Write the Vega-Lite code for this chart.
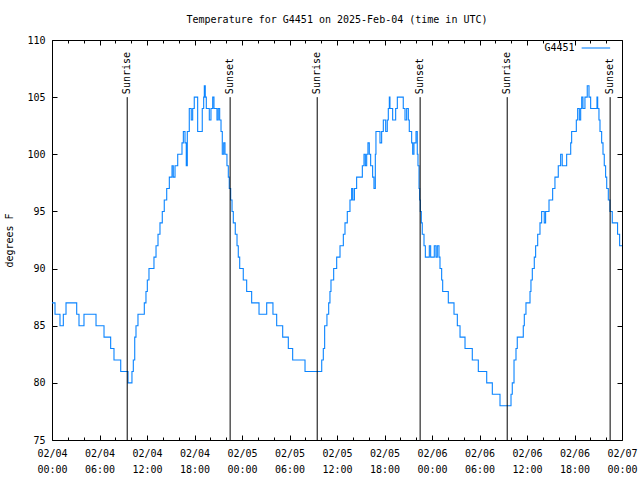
{
  "$schema": "https://vega.github.io/schema/vega-lite/v6.json",
  "width": 570,
  "height": 400,
  "autosize": {"type": "none"},
  "padding": {"left": 52, "top": 40, "right": 18, "bottom": 40},
  "background": "white",
  "config": {
    "view": {"stroke": "#000000", "strokeWidth": 1},
    "font": "DejaVu Sans Mono",
    "axis": {"labelFont": "DejaVu Sans Mono", "labelFontSize": 10, "labelColor": "#000000", "tickColor": "#000000", "titleFont": "DejaVu Sans Mono", "titleFontSize": 10, "titleFontWeight": "normal", "titleColor": "#000000", "domain": false, "grid": false}
  },
  "title": {"text": "Temperature for G4451 on 2025-Feb-04 (time in UTC)", "font": "DejaVu Sans Mono", "fontSize": 10, "fontWeight": "normal", "color": "#000000", "offset": 10, "anchor": "middle"},
  "datasets": {
    "temps": [
      {"t": 0, "temp": 87}, {"t": 0.38, "temp": 86}, {"t": 1.01, "temp": 85}, {"t": 1.43, "temp": 86}, {"t": 1.77, "temp": 87},
      {"t": 3.12, "temp": 86}, {"t": 3.41, "temp": 85}, {"t": 4.04, "temp": 86}, {"t": 5.56, "temp": 85}, {"t": 6.57, "temp": 84},
      {"t": 7.41, "temp": 83}, {"t": 7.83, "temp": 82}, {"t": 8.68, "temp": 81}, {"t": 9.6, "temp": 80}, {"t": 10.1, "temp": 81},
      {"t": 10.27, "temp": 82}, {"t": 10.45, "temp": 84}, {"t": 10.61, "temp": 85}, {"t": 10.86, "temp": 86}, {"t": 11.66, "temp": 87},
      {"t": 11.87, "temp": 88}, {"t": 12.04, "temp": 89}, {"t": 12.25, "temp": 90}, {"t": 12.88, "temp": 91}, {"t": 13.14, "temp": 92},
      {"t": 13.39, "temp": 93}, {"t": 13.64, "temp": 94}, {"t": 13.93, "temp": 95}, {"t": 14.18, "temp": 96}, {"t": 14.49, "temp": 97},
      {"t": 14.82, "temp": 98}, {"t": 15.16, "temp": 99}, {"t": 15.32, "temp": 98}, {"t": 15.54, "temp": 99}, {"t": 15.88, "temp": 100},
      {"t": 16.42, "temp": 101}, {"t": 16.59, "temp": 102}, {"t": 16.8, "temp": 101}, {"t": 16.96, "temp": 99}, {"t": 17.09, "temp": 102},
      {"t": 17.34, "temp": 104}, {"t": 17.59, "temp": 103}, {"t": 17.77, "temp": 104}, {"t": 17.97, "temp": 105}, {"t": 18.4, "temp": 102},
      {"t": 18.98, "temp": 104}, {"t": 19.16, "temp": 105}, {"t": 19.24, "temp": 106}, {"t": 19.36, "temp": 105}, {"t": 19.49, "temp": 104},
      {"t": 19.87, "temp": 103}, {"t": 20.08, "temp": 104}, {"t": 20.3, "temp": 105}, {"t": 20.46, "temp": 104}, {"t": 20.84, "temp": 103},
      {"t": 21.0, "temp": 104}, {"t": 21.18, "temp": 103}, {"t": 21.35, "temp": 102}, {"t": 21.51, "temp": 100}, {"t": 21.69, "temp": 101},
      {"t": 21.85, "temp": 100}, {"t": 22.1, "temp": 99}, {"t": 22.27, "temp": 98}, {"t": 22.39, "temp": 97}, {"t": 22.57, "temp": 96},
      {"t": 22.74, "temp": 95}, {"t": 22.9, "temp": 94}, {"t": 23.15, "temp": 93}, {"t": 23.37, "temp": 92}, {"t": 23.53, "temp": 91},
      {"t": 23.71, "temp": 90}, {"t": 24.16, "temp": 89}, {"t": 24.59, "temp": 88}, {"t": 25.22, "temp": 87}, {"t": 26.15, "temp": 86},
      {"t": 27.12, "temp": 87}, {"t": 27.91, "temp": 86}, {"t": 28.38, "temp": 85}, {"t": 29.14, "temp": 84}, {"t": 29.85, "temp": 83},
      {"t": 30.4, "temp": 82}, {"t": 31.96, "temp": 81}, {"t": 34.07, "temp": 82}, {"t": 34.27, "temp": 83}, {"t": 34.44, "temp": 85},
      {"t": 34.73, "temp": 86}, {"t": 34.95, "temp": 87}, {"t": 35.11, "temp": 88}, {"t": 35.24, "temp": 89}, {"t": 35.58, "temp": 90},
      {"t": 35.96, "temp": 91}, {"t": 36.38, "temp": 92}, {"t": 36.8, "temp": 93}, {"t": 37.01, "temp": 94}, {"t": 37.3, "temp": 95},
      {"t": 37.64, "temp": 96}, {"t": 37.85, "temp": 97}, {"t": 38.0, "temp": 96}, {"t": 38.2, "temp": 97}, {"t": 38.48, "temp": 98},
      {"t": 39.2, "temp": 99}, {"t": 39.41, "temp": 100}, {"t": 39.58, "temp": 99}, {"t": 39.75, "temp": 100}, {"t": 39.91, "temp": 101},
      {"t": 40.08, "temp": 100}, {"t": 40.25, "temp": 99}, {"t": 40.5, "temp": 98}, {"t": 40.67, "temp": 97}, {"t": 40.84, "temp": 100},
      {"t": 40.92, "temp": 102}, {"t": 41.43, "temp": 101}, {"t": 41.64, "temp": 102}, {"t": 41.85, "temp": 103}, {"t": 42.15, "temp": 102},
      {"t": 42.35, "temp": 103}, {"t": 42.48, "temp": 104}, {"t": 42.61, "temp": 105}, {"t": 42.69, "temp": 104}, {"t": 43.03, "temp": 103},
      {"t": 43.41, "temp": 104}, {"t": 43.62, "temp": 105}, {"t": 44.37, "temp": 104}, {"t": 44.59, "temp": 103}, {"t": 44.8, "temp": 104},
      {"t": 45.01, "temp": 103}, {"t": 45.13, "temp": 102}, {"t": 45.43, "temp": 101}, {"t": 45.56, "temp": 100}, {"t": 45.72, "temp": 101},
      {"t": 45.98, "temp": 102}, {"t": 46.14, "temp": 100}, {"t": 46.23, "temp": 99}, {"t": 46.36, "temp": 97}, {"t": 46.44, "temp": 96},
      {"t": 46.52, "temp": 95}, {"t": 46.65, "temp": 94}, {"t": 46.77, "temp": 93}, {"t": 46.99, "temp": 92}, {"t": 47.16, "temp": 91},
      {"t": 47.66, "temp": 92}, {"t": 47.83, "temp": 91}, {"t": 48.29, "temp": 92}, {"t": 48.5, "temp": 91}, {"t": 48.67, "temp": 92},
      {"t": 48.88, "temp": 91}, {"t": 49.01, "temp": 90}, {"t": 49.22, "temp": 89}, {"t": 49.35, "temp": 88}, {"t": 50.06, "temp": 87},
      {"t": 50.78, "temp": 86}, {"t": 51.2, "temp": 85}, {"t": 51.54, "temp": 84}, {"t": 52.17, "temp": 83}, {"t": 53.09, "temp": 82},
      {"t": 53.85, "temp": 81}, {"t": 54.91, "temp": 80}, {"t": 55.62, "temp": 79}, {"t": 56.59, "temp": 78}, {"t": 57.98, "temp": 79},
      {"t": 58.14, "temp": 80}, {"t": 58.36, "temp": 82}, {"t": 58.61, "temp": 83}, {"t": 58.77, "temp": 84}, {"t": 59.53, "temp": 85},
      {"t": 59.66, "temp": 86}, {"t": 59.87, "temp": 87}, {"t": 60.38, "temp": 88}, {"t": 60.5, "temp": 89}, {"t": 60.67, "temp": 90},
      {"t": 60.92, "temp": 91}, {"t": 61.09, "temp": 92}, {"t": 61.35, "temp": 93}, {"t": 61.64, "temp": 94}, {"t": 61.85, "temp": 95},
      {"t": 62.18, "temp": 94}, {"t": 62.35, "temp": 95}, {"t": 62.78, "temp": 96}, {"t": 63.24, "temp": 97}, {"t": 63.53, "temp": 98},
      {"t": 63.95, "temp": 99}, {"t": 64.25, "temp": 100}, {"t": 64.45, "temp": 99}, {"t": 65.01, "temp": 100}, {"t": 65.52, "temp": 101},
      {"t": 65.64, "temp": 102}, {"t": 66.23, "temp": 103}, {"t": 66.4, "temp": 104}, {"t": 66.61, "temp": 103}, {"t": 66.78, "temp": 104},
      {"t": 66.91, "temp": 105}, {"t": 67.07, "temp": 104}, {"t": 67.32, "temp": 105}, {"t": 67.61, "temp": 106}, {"t": 67.83, "temp": 105},
      {"t": 68.04, "temp": 104}, {"t": 68.84, "temp": 105}, {"t": 68.93, "temp": 104}, {"t": 69.09, "temp": 103}, {"t": 69.22, "temp": 102},
      {"t": 69.43, "temp": 101}, {"t": 69.6, "temp": 100}, {"t": 69.76, "temp": 99}, {"t": 69.93, "temp": 98}, {"t": 70.07, "temp": 97},
      {"t": 70.27, "temp": 96}, {"t": 70.48, "temp": 95}, {"t": 70.77, "temp": 94}, {"t": 71.44, "temp": 93}, {"t": 71.7, "temp": 92},
      {"t": 72.0, "temp": 92}
    ],
    "sun": [
      {"t": 9.5, "event": "Sunrise"}, {"t": 22.5, "event": "Sunset"},
      {"t": 33.5, "event": "Sunrise"}, {"t": 46.5, "event": "Sunset"},
      {"t": 57.5, "event": "Sunrise"}, {"t": 70.5, "event": "Sunset"}
    ]
  },
  "layer": [
    {
      "data": {"name": "temps"},
      "mark": {"type": "line", "interpolate": "step-after", "color": "#0a84ff", "strokeWidth": 1.1},
      "encoding": {
        "x": {"field": "t", "type": "quantitative", "scale": {"domain": [0, 72], "nice": false, "zero": false},
          "axis": {"orient": "bottom", "title": null, "values": [0, 6, 12, 18, 24, 30, 36, 42, 48, 54, 60, 66, 72], "tickSize": -5, "labelPadding": 13, "labelLineHeight": 16, "labelBaseline": "top", "labelFlush": false,
            "labelExpr": "['02/0' + (4 + floor(datum.value / 24)), (datum.value % 24 < 10 ? '0' : '') + (datum.value % 24) + ':00']"}},
        "y": {"field": "temp", "type": "quantitative", "scale": {"domain": [75, 110], "nice": false, "zero": false},
          "axis": {"orient": "left", "title": "degrees F", "values": [75, 80, 85, 90, 95, 100, 105, 110], "tickSize": -5, "labelPadding": 12, "titlePadding": 12}}
      }
    },
    {
      "data": {"name": "sun"},
      "mark": {"type": "rule", "color": "#000000", "strokeWidth": 1},
      "encoding": {
        "x": {"field": "t", "type": "quantitative", "axis": {"orient": "top", "title": null, "labels": false, "values": [0, 6, 12, 18, 24, 30, 36, 42, 48, 54, 60, 66, 72], "tickSize": -5}},
        "y": {"datum": 75, "axis": {"orient": "right", "title": null, "labels": false, "values": [75, 80, 85, 90, 95, 100, 105, 110], "tickSize": -5}},
        "y2": {"datum": 105}
      }
    },
    {
      "data": {"name": "sun"},
      "mark": {"type": "text", "angle": 270, "align": "left", "baseline": "middle", "font": "DejaVu Sans Mono", "fontSize": 10, "color": "#000000", "dx": 3},
      "encoding": {
        "x": {"field": "t", "type": "quantitative", "axis": {"orient": "bottom", "title": null, "labels": false, "values": [2, 4, 8, 10, 14, 16, 20, 22, 26, 28, 32, 34, 38, 40, 44, 46, 50, 52, 56, 58, 62, 64, 68, 70], "tickSize": -3}},
        "y": {"datum": 105, "axis": null},
        "text": {"field": "event"}
      }
    },
    {
      "data": {"values": [{"name": "G4451"}]},
      "mark": {"type": "text", "align": "right", "baseline": "middle", "font": "DejaVu Sans Mono", "fontSize": 10, "color": "#000000"},
      "encoding": {
        "x": {"datum": 66.0, "axis": {"orient": "top", "title": null, "labels": false, "values": [2, 4, 8, 10, 14, 16, 20, 22, 26, 28, 32, 34, 38, 40, 44, 46, 50, 52, 56, 58, 62, 64, 68, 70], "tickSize": -3}},
        "y": {"datum": 109.3, "axis": null},
        "text": {"field": "name"}
      }
    },
    {
      "data": {"values": [{"name": "G4451"}]},
      "mark": {"type": "rule", "color": "#0a84ff", "strokeWidth": 1.1},
      "encoding": {
        "x": {"datum": 66.9, "axis": null},
        "x2": {"datum": 70.5},
        "y": {"datum": 109.3, "axis": null}
      }
    }
  ],
  "resolve": {"axis": {"x": "independent", "y": "independent"}}
}
